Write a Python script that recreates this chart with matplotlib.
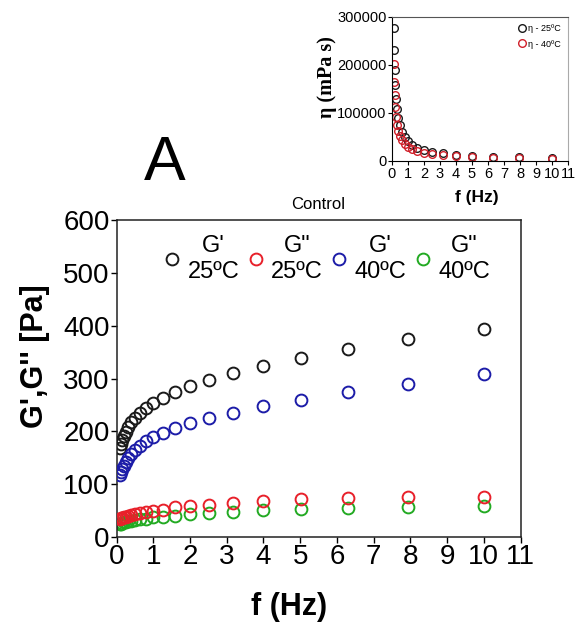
import numpy as np
import matplotlib
matplotlib.use("Agg")
import matplotlib.pyplot as plt

plt.rcParams['font.family'] = ['Liberation Sans', 'DejaVu Sans']

# frequency sweep (Hz)
freq = [0.1, 0.126, 0.158, 0.2, 0.251, 0.316, 0.398, 0.501, 0.631, 0.794,
        1.0, 1.26, 1.58, 2.0, 2.51, 3.16, 3.98, 5.01, 6.31, 7.94, 10.0]

# moduli (Pa)
g1_25 = [169, 176, 183, 191, 199, 208, 217, 226, 235, 244,
         254, 264, 275, 285, 298, 310, 324, 339, 356, 374, 394]
g2_25 = [35, 35.5, 36.5, 37.5, 38.5, 40, 41.5, 43, 45, 47,
         49, 52, 56, 59, 61, 65, 68, 71, 74, 76, 76]
g1_40 = [118, 123, 129, 135, 142, 149, 157, 164, 172, 181,
         189, 197, 206, 216, 226, 235, 248, 260, 274, 290, 309]
g2_40 = [25, 25.5, 26.5, 27.5, 28.5, 29.5, 30.5, 32, 33.5, 35,
         37, 38.5, 40.5, 43, 45, 48, 51, 53, 55, 57, 58]

# viscosity (mPa s) for the inset
eta_25 = [278000, 231000, 190000, 158000, 130000, 108000, 90000, 74000, 61000, 50000,
          41000, 34000, 28000, 23000, 19000, 16000, 13000, 11000, 9000, 7500, 6300]
eta_40 = [203000, 165000, 137000, 113000, 92000, 76000, 63000, 52000, 43000, 36000,
          30000, 25000, 21000, 17000, 14500, 12000, 10000, 8500, 7000, 5900, 5000]

series = [
    (g1_25, "G'\n25ºC", '#1a1a1a', 3),
    (g2_25, 'G"\n25ºC', '#e8202a', 4),
    (g1_40, "G'\n40ºC", '#1c1ca8', 3),
    (g2_40, 'G"\n40ºC', '#22aa22', 2),
]

fig = plt.figure(figsize=(5.76, 6.3), dpi=100)
ax = fig.add_axes([0.2023, 0.1476, 0.7014, 0.5032])

for vals, lab, col, z in series:
    ax.plot(freq, vals, 'o', mfc='none', mec=col, ms=8.5, mew=1.4, label=lab, zorder=z)

ax.set_xlim(0, 11)
ax.set_ylim(0, 600)
ax.set_xticks(range(0, 12))
ax.set_yticks(range(0, 601, 100))
ax.tick_params(direction='out', length=4, width=1, labelsize=20, pad=1)
for s in ax.spines.values():
    s.set_linewidth(1.1)
    s.set_color('#222222')

ax.set_xlabel('f (Hz)', fontsize=22, fontweight='bold')
ax.xaxis.set_label_coords(0.427, -0.175)
ax.set_ylabel("G',G'' [Pa]", fontsize=22, fontweight='bold')
ax.yaxis.set_label_coords(-0.165, 0.57)
ax.set_title('Control', fontsize=12, pad=8)

leg = ax.legend(ncol=4, loc='upper left', bbox_to_anchor=(0.12, 0.952), frameon=False,
                fontsize=17, handlelength=0.6, handletextpad=0.35, columnspacing=0.4,
                borderpad=0, borderaxespad=0)
for t in leg.get_texts():
    t.set_multialignment('center')

fig.text(165 / 576, 1 - 164 / 630, 'A', fontsize=45, ha='center', va='center')

# inset: viscosity
ins = fig.add_axes([392 / 576, 1 - 161 / 630, 176 / 576, 144 / 630])
ins.plot(freq, eta_25, 'o', mfc='none', mec='#1a1a1a', ms=5.5, mew=1.0, label='η - 25ºC')
ins.plot(freq, eta_40, 'o', mfc='none', mec='#d0202a', ms=5.5, mew=1.0, label='η - 40ºC')
ins.set_xlim(0, 11)
ins.set_ylim(0, 300000)
ins.set_xticks(range(0, 12))
ins.set_yticks([0, 100000, 200000, 300000])
ins.tick_params(direction='out', length=3, width=0.8, labelsize=10.5, pad=1)
ins.spines['top'].set_color('#555555')
ins.spines['right'].set_color('#aaaaaa')
ins.set_xlabel('f (Hz)', fontsize=12.5, fontweight='bold')
ins.xaxis.set_label_coords(0.483, -0.2)
ins.set_ylabel('η (mPa s)', fontsize=14.5, fontweight='bold', family='Liberation Serif')
ins.yaxis.set_label_coords(-0.31, 0.583)
ins.legend(loc='upper right', frameon=False, fontsize=6.5, handlelength=0.6,
           handletextpad=0.4, borderpad=0.3, labelspacing=0.7)

fig.savefig('out.png', dpi=100)
